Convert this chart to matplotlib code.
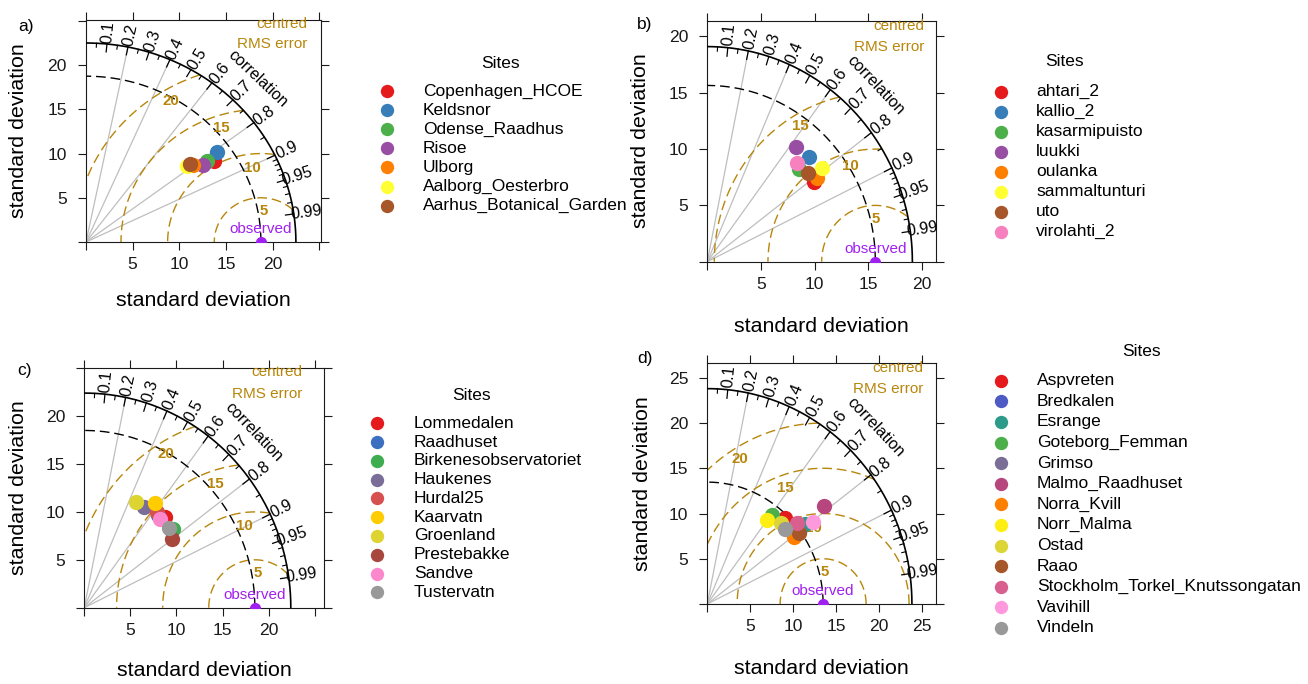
import numpy as np
import matplotlib
matplotlib.use("Agg")
import matplotlib.pyplot as plt

plt.rcParams['font.family'] = ['Liberation Sans', 'DejaVu Sans']

# ---------------- data ----------------
sites_a = ["Copenhagen_HCOE", "Keldsnor", "Odense_Raadhus", "Risoe", "Ulborg",
           "Aalborg_Oesterbro", "Aarhus_Botanical_Garden"]
sd_a = [16.50, 17.37, 15.89, 15.32, 14.40, 13.83, 14.22]
cor_a = [0.833, 0.810, 0.818, 0.821, 0.799, 0.785, 0.784]
colors_a = ['#E41A1C', '#377EB8', '#4DAF4A', '#984EA3', '#FF7F00', '#FFFF33', '#A65628']
obs_a = 18.75

sites_b = ["ahtari_2", "kallio_2", "kasarmipuisto", "luukki", "oulanka",
           "sammaltunturi", "uto", "virolahti_2"]
sd_b = [12.24, 13.25, 11.86, 13.09, 12.60, 13.50, 12.21, 12.10]
cor_b = [0.815, 0.715, 0.723, 0.632, 0.809, 0.789, 0.767, 0.688]
colors_b = ['#E41A1C', '#377EB8', '#4DAF4A', '#984EA3', '#FF7F00', '#FFFF33', '#A65628', '#F781BF']
obs_b = 15.65

sites_c = ["Lommedalen", "Raadhuset", "Birkenesobservatoriet", "Haukenes", "Hurdal25",
           "Kaarvatn", "Groenland", "Prestebakke", "Sandve", "Tustervatn"]
sd_c = [12.91, 12.57, 12.64, 12.38, 12.71, 13.32, 12.34, 11.86, 12.35, 12.37]
cor_c = [0.677, 0.636, 0.763, 0.525, 0.617, 0.575, 0.454, 0.799, 0.664, 0.742]
colors_c = ['#E41A1C', '#3B6FC0', '#3DAD50', '#7A6D98', '#D65050', '#FFCC00',
            '#DDD432', '#A8473D', '#FA88CB', '#999999']
obs_c = 18.5

sites_d = ["Aspvreten", "Bredkalen", "Esrange", "Goteborg_Femman", "Grimso",
           "Malmo_Raadhuset", "Norra_Kvill", "Norr_Malma", "Ostad", "Raao",
           "Stockholm_Torkel_Knutssongatan", "Vavihill", "Vindeln"]
sd_d = [13.09, 13.94, 14.37, 12.41, 12.46, 17.38, 12.51, 11.61, 12.42, 13.24, 13.69, 15.25, 12.23]
cor_d = [0.689, 0.789, 0.790, 0.608, 0.739, 0.782, 0.807, 0.600, 0.689, 0.807, 0.758, 0.803, 0.738]
colors_d = ['#E41A1C', '#4F5BC4', '#2E9B8A', '#4DAF4A', '#7A6D96', '#B8467E', '#FF7F00',
            '#FFEE11', '#DDD535', '#A65628', '#D9608E', '#FF99DD', '#999999']
obs_d = 13.47

rms_levels_a = [5, 10, 15, 20]
rms_levels_b = [5, 10, 15]
rms_levels_c = [5, 10, 15, 20]
rms_levels_d = [5, 10, 15, 20]

corr_major = [0.1, 0.2, 0.3, 0.4, 0.5, 0.6, 0.7, 0.8, 0.9, 0.95, 0.99]
corr_minor = [0.05, 0.15, 0.25, 0.35, 0.45, 0.55, 0.65, 0.75, 0.85,
              0.91, 0.92, 0.93, 0.94, 0.96, 0.97, 0.98]
corr_grid = [0.2, 0.4, 0.6, 0.8, 0.9]

# ---------------- style ----------------
W, H = 1308, 684
GOLD = '#B8860B'
PURPLE = '#A020F0'
fig = plt.figure(figsize=(W / 100, H / 100), dpi=100)


def px_axes(l, t, r, b):
    return fig.add_axes([l / W, 1 - b / H, (r - l) / W, (b - t) / H])


def taylor(ax, sd, cor, colors, obs, maxsd, xmax, ymax, label_max, levels, label_angles):
    ax.set_xlim(0, xmax)
    ax.set_ylim(0, ymax)
    ticks_x = np.arange(0, xmax + 0.01, 5)
    ticks_y = np.arange(0, ymax + 0.01, 5)
    ax.set_xticks(ticks_x)
    ax.set_yticks(ticks_y)
    ax.set_xticklabels(['' if (t == 0 or t > label_max) else '%d' % t for t in ticks_x])
    ax.set_yticklabels(['' if (t == 0 or t > label_max) else '%d' % t for t in ticks_y])
    ax.tick_params(direction='out', length=5.8, width=0.8, top=True, right=True,
                   labelsize=12.6, colors='#1a1a1a')
    ax.tick_params(axis='x', pad=5)
    ax.tick_params(axis='y', pad=8)
    for s in ax.spines.values():
        s.set_linewidth(0.8)
        s.set_color('#1a1a1a')

    th = np.linspace(0, np.pi / 2, 400)
    # correlation rays
    for c in corr_grid:
        a = np.arccos(c)
        ax.plot([0, maxsd * np.cos(a)], [0, maxsd * np.sin(a)], color='#BEBEBE', lw=0.9, zorder=1)
    # outer arc
    ax.plot(maxsd * np.cos(th), maxsd * np.sin(th), color='black', lw=1.2, zorder=3)
    # observed sd arc
    ax.plot(obs * np.cos(th), obs * np.sin(th), color='black', lw=1.0,
            dashes=(7, 3.5), zorder=3)
    # rms circles
    tt = np.linspace(0, np.pi, 3000)
    for g, ang in zip(levels, label_angles):
        x = obs + g * np.cos(tt)
        y = g * np.sin(tt)
        m = (x >= 0) & (x * x + y * y <= maxsd * maxsd)
        ax.plot(x[m], y[m], color=GOLD, lw=1.0, dashes=(7, 3.5), zorder=2)
        a = np.radians(ang)
        ax.annotate('%d' % g, (obs + g * np.cos(a), g * np.sin(a)), xytext=(0, -9.8),
                    textcoords='offset points', ha='center', va='center',
                    color=GOLD, fontweight='bold', fontsize=10.8, zorder=4)
    # correlation ticks
    for c in corr_major:
        a = np.arccos(c)
        ax.plot([0.96 * maxsd * np.cos(a), maxsd * np.cos(a)],
                [0.96 * maxsd * np.sin(a), maxsd * np.sin(a)], color='black', lw=0.9, zorder=3)
        ax.text(1.06 * maxsd * np.cos(a), 1.06 * maxsd * np.sin(a), '%g' % c,
                rotation=np.degrees(a), transform_rotates_text=True,
                rotation_mode='anchor', ha='center', va='center', fontsize=11.6, zorder=4)
    for c in corr_minor:
        a = np.arccos(c)
        ax.plot([0.98 * maxsd * np.cos(a), maxsd * np.cos(a)],
                [0.98 * maxsd * np.sin(a), maxsd * np.sin(a)], color='black', lw=0.8, zorder=3)
    a45 = np.pi / 4
    ax.text(1.16 * maxsd * np.cos(a45), 1.16 * maxsd * np.sin(a45), 'correlation',
            rotation=-45, transform_rotates_text=True, rotation_mode='anchor',
            ha='center', va='center', fontsize=11.6, zorder=4)
    ax.text(1.057 * maxsd, 1.097 * maxsd, 'centred', ha='right', va='center',
            color=GOLD, fontsize=11, zorder=4)
    ax.text(1.057 * maxsd, 0.996 * maxsd, 'RMS error', ha='right', va='center',
            color=GOLD, fontsize=11, zorder=4)
    # observed
    ax.plot([obs], [0], 'o', color=PURPLE, ms=7, zorder=5)
    ax.annotate('observed', (obs, 0), xytext=(0, 9.3), textcoords='offset points',
                ha='center', va='center', color=PURPLE, fontsize=11, zorder=5)
    # model points
    sd = np.asarray(sd)
    cor = np.asarray(cor)
    xs = sd * cor
    ys = sd * np.sqrt(1 - cor ** 2)
    for x, y, col in zip(xs, ys, colors):
        ax.plot([x], [y], 'o', color=col, ms=11, mec='none', zorder=6)


ax_a = px_axes(86, 20, 321, 242)
taylor(ax_a, sd_a, cor_a, colors_a, obs_a, 22.5, 25.19, 25.1, 20, rms_levels_a, [87, 95.5, 106.5, 118.8])
ax_b = px_axes(707.3, 20.7, 936, 261.7)
taylor(ax_b, sd_b, cor_b, colors_b, obs_b, 19.1, 21.3, 21.4, 20, rms_levels_b, [90, 103.6, 117.8])
ax_c = px_axes(84.3, 367.7, 324, 607.7)
taylor(ax_c, sd_c, cor_c, colors_c, obs_c, 22.4, 26.0, 25.05, 20, rms_levels_c, [87, 96.3, 106.5, 119])
ax_d = px_axes(707.3, 363.3, 936, 604)
taylor(ax_d, sd_d, cor_d, colors_d, obs_d, 23.8, 26.6, 26.6, 25, rms_levels_d, [87.5, 96.7, 107, 119])

# ---------------- overlay: labels and legends ----------------
ov = fig.add_axes([0, 0, 1, 1])
ov.set_xlim(0, W)
ov.set_ylim(H, 0)
ov.axis('off')
ov.patch.set_visible(False)

panels = [
    # letter, letter x, letter y, xlabel (x, y), ylabel (x, y)
    ('a)', 18, 26.5, (203.5, 300), (19, 131)),
    ('b)', 637, 24, (821.5, 327), (641, 141)),
    ('c)', 17, 370, (204, 670), (19, 487.7)),
    ('d)', 637, 358, (821.5, 668), (642, 483.7)),
]
for letter, lx, ly, xl, yl in panels:
    ov.text(lx, ly, letter, ha='left', va='center', fontsize=12.5)
    ov.text(xl[0], xl[1], 'standard deviation', ha='center', va='center', fontsize=15.4)
    ov.text(yl[0], yl[1], 'standard deviation', ha='center', va='center', fontsize=15.4,
            rotation=90)


def legend(names, colors, title_xy, mx, tx, y0, dy):
    ov.text(title_xy[0], title_xy[1], 'Sites', ha='center', va='center', fontsize=12.5)
    for i, (n, c) in enumerate(zip(names, colors)):
        y = y0 + i * dy
        ov.plot([mx], [y], 'o', color=c, ms=9.6, mec='none')
        ov.text(tx, y, n, ha='left', va='center', fontsize=12.5)


legend(sites_a, colors_a, (500, 63.3), 386.7, 422.7, 91, 19.1)
legend(sites_b, colors_b, (1065, 61), 1000.7, 1036, 91.7, 20.0)
legend(sites_c, colors_c, (471.7, 395), 377.3, 414, 423.3, 18.78)
legend(sites_d, colors_d, (1141.7, 351.7), 1000.7, 1036.7, 380.7, 20.6)

fig.savefig('out.png', dpi=100)
